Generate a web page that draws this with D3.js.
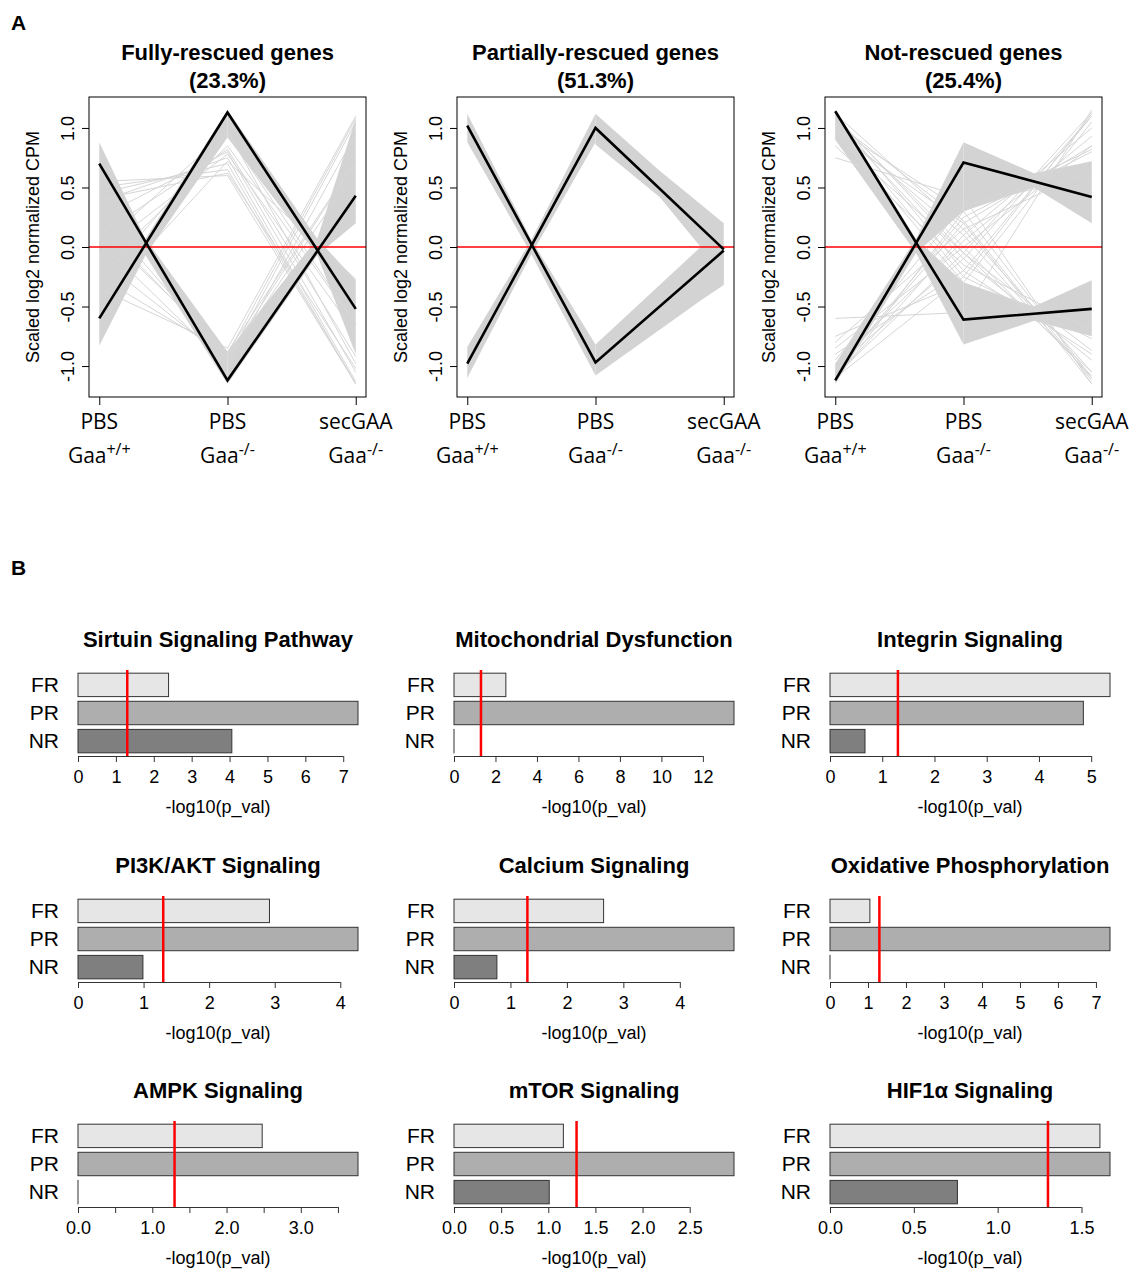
<!DOCTYPE html>
<html>
<head>
<meta charset="utf-8">
<script src="https://cdn.jsdelivr.net/npm/d3@7"></script>
<style>body{margin:0;background:#fff}</style>
</head>
<body>
<div id="chart"></div>
<script>
// ---- panel A: gene profile clusters ----
var conditions = ["PBS", "PBS", "secGAA"];
var genotypes = ["+/+", "-/-", "-/-"];
var conditionPos = [1, 2, 3];
var clusterTitles = ["Fully-rescued genes", "Partially-rescued genes", "Not-rescued genes"];
var clusterShares = ["(23.3%)", "(51.3%)", "(25.4%)"];
var yTicksA = [-1, -0.5, 0, 0.5, 1];

// cluster centroids, one value per condition
var meansFull = [[0.70, -1.12, 0.43], [-0.60, 1.13, -0.52]];
var meansPartial = [[1.02, -0.97, -0.03], [-0.98, 1.00, -0.02]];
var meansNot = [[1.14, -0.61, -0.52], [-1.12, 0.71, 0.42]];

// dense grey spread of gene profiles: [position, low, high]
var bandsFull = [
  [[1, -0.05, 0.88], [1.36, -0.07, 0.07], [2, -1.15, -0.88]],
  [[1, -0.83, 0.05], [1.36, -0.07, 0.07], [2, 0.92, 1.15]],
  [[2, -1.15, -0.88], [2.70, -0.07, 0.07], [3, 0.20, 1.08]],
  [[2, 0.92, 1.15], [2.70, -0.07, 0.07], [3, -0.90, -0.28]]
];
var bandsPartial = [
  [[1, 0.88, 1.12], [1.50, -0.06, 0.06], [2, -1.08, -0.82]],
  [[1, -1.10, -0.84], [1.50, -0.06, 0.06], [2, 0.88, 1.12]],
  [[2, 0.86, 1.12], [2.5, 0.42, 0.64], [2.82, 0.0, 0.36], [3, -0.30, 0.20]],
  [[2, -1.08, -0.82], [2.82, -0.45, 0.0], [3, -0.32, 0.0]]
];
var bandsNot = [
  [[1, 0.90, 1.15], [1.63, -0.05, 0.07], [2, -0.82, -0.30]],
  [[1, -1.15, -0.98], [1.63, -0.05, 0.07], [2, 0.30, 0.88]],
  [[2, 0.30, 0.88], [2.55, 0.50, 0.62], [3, 0.20, 0.72]],
  [[2, -0.82, -0.30], [2.55, -0.62, -0.50], [3, -0.75, -0.28]]
];

// individual genes outside the dense spread
var straysFull = [
  [0.55, 0.60, -1.15], [0.50, 0.65, -1.15], [0.45, 0.70, -1.15], [0.38, 0.75, -1.13],
  [0.25, 0.80, -1.05], [0.10, 0.82, -0.92], [-0.05, 0.78, -0.73], [0.40, 0.62, -1.02],
  [-0.25, -0.90, 1.08], [-0.10, -0.95, 1.05], [0.05, -1.00, 0.95], [-0.35, -0.85, 1.10],
  [0.30, -0.95, 0.65], [-0.30, 0.95, -0.65], [0.00, 0.98, -0.98], [0.20, -0.92, 0.72],
  [-0.45, 0.72, -0.27], [0.15, -0.88, 0.73], [-0.20, 0.85, -0.65]
];
var straysPartial = [];
var straysNot = [
  [-1.10, 0.10, 1.00], [-1.00, -0.10, 1.10], [-0.90, -0.20, 1.10], [-0.75, -0.30, 1.05],
  [-1.05, 0.20, 0.85], [-0.85, 0.00, 0.85], [-0.60, -0.55, 1.15], [-0.95, 0.35, 0.60],
  [1.05, -0.10, -0.95], [1.00, 0.10, -1.10], [0.95, 0.20, -1.15], [1.10, -0.20, -0.90],
  [0.75, 0.42, -1.15], [1.00, 0.30, -1.10], [1.08, 0.00, -1.08], [0.92, -0.05, -0.87],
  [-1.08, -0.05, 1.13], [1.12, 0.15, -1.05], [-1.05, 0.25, 0.80], [-0.98, 0.05, 0.93],
  [1.02, -0.25, -0.77], [0.98, -0.30, -0.68], [-1.10, -0.25, 1.12], [1.05, 0.22, -1.12],
  [-0.80, 0.15, 0.65], [0.85, -0.15, -0.70], [-1.12, 0.30, 0.82], [1.10, -0.05, -1.05]
];

// ---- panel B: pathway enrichment ----
var pathways = ["Sirtuin Signaling Pathway", "Mitochondrial Dysfunction", "Integrin Signaling",
  "PI3K/AKT Signaling", "Calcium Signaling", "Oxidative Phosphorylation",
  "AMPK Signaling", "mTOR Signaling", "HIF1\u03b1 Signaling"];
var groups = ["FR", "PR", "NR"];
var frVals = [2.39, 2.50, 5.36, 2.92, 2.65, 1.05, 2.48, 1.16, 1.61];
var prVals = [7.39, 13.50, 4.85, 4.27, 4.96, 7.37, 3.77, 2.97, 1.67];
var nrVals = [4.06, 0.00, 0.67, 0.99, 0.76, 0.00, 0.00, 1.01, 0.76];
var pCutoff = 1.3;
var tickSets = [
  [0, 1, 2, 3, 4, 5, 6, 7], [0, 2, 4, 6, 8, 10, 12], [0, 1, 2, 3, 4, 5],
  [0, 1, 2, 3, 4], [0, 1, 2, 3, 4], [0, 1, 2, 3, 4, 5, 6, 7],
  [0, 0.5, 1, 1.5, 2, 2.5, 3, 3.5], [0, 0.5, 1, 1.5, 2, 2.5], [0, 0.5, 1, 1.5]
];
var tickLabelSets = [
  ["0", "1", "2", "3", "4", "5", "6", "7"], ["0", "2", "4", "6", "8", "10", "12"], ["0", "1", "2", "3", "4", "5"],
  ["0", "1", "2", "3", "4"], ["0", "1", "2", "3", "4"], ["0", "1", "2", "3", "4", "5", "6", "7"],
  ["0.0", "", "1.0", "", "2.0", "", "3.0", ""], ["0.0", "0.5", "1.0", "1.5", "2.0", "2.5"], ["0.0", "0.5", "1.0", "1.5"]
];
var barColors = {FR: "#e6e6e6", PR: "#aeaeae", NR: "#7f7f7f"};

var font = "'Liberation Sans', Arial, Helvetica, sans-serif";

var svg = d3.select("#chart").append("svg")
  .attr("width", 1129)
  .attr("height", 1269)
  .attr("font-family", font);

svg.append("text").attr("x", 11).attr("y", 30)
  .attr("font-size", "21px").attr("font-weight", "bold").text("A");
svg.append("text").attr("x", 11).attr("y", 575)
  .attr("font-size", "21px").attr("font-weight", "bold").text("B");

// ---- draw panel A ----
var boxLefts = [89, 457, 825];
var boxW = 277, boxTop = 97, boxBottom = 397;
var allMeans = [meansFull, meansPartial, meansNot];
var allBands = [bandsFull, bandsPartial, bandsNot];
var allStrays = [straysFull, straysPartial, straysNot];

boxLefts.forEach(function (left, p) {
  var g = svg.append("g").attr("transform", "translate(" + left + ",0)");

  var x = d3.scaleLinear().domain([0.92, 3.08]).range([0, boxW]);
  var y = d3.scaleLinear().domain([-1.26, 1.26]).range([boxBottom, boxTop]);

  var area = d3.area()
    .x(d => x(d[0]))
    .y0(d => y(d[1]))
    .y1(d => y(d[2]));

  g.append("g").selectAll("path")
    .data(allBands[p])
    .join("path")
    .attr("d", area)
    .attr("fill", "#d3d3d3");

  var profile = d3.line()
    .x((d, i) => x(conditionPos[i]))
    .y(d => y(d));

  g.append("g").selectAll("path")
    .data(allStrays[p])
    .join("path")
    .attr("d", profile)
    .attr("fill", "none")
    .attr("stroke", "#d6d6d6")
    .attr("stroke-width", 1);

  g.append("line")
    .attr("x1", 0).attr("x2", boxW)
    .attr("y1", y(0)).attr("y2", y(0))
    .attr("stroke", "#ff0000").attr("stroke-width", 1.5);

  g.append("g").selectAll("path")
    .data(allMeans[p])
    .join("path")
    .attr("d", profile)
    .attr("fill", "none")
    .attr("stroke", "#000")
    .attr("stroke-width", 2.6);

  g.append("rect")
    .attr("x", 0).attr("y", boxTop)
    .attr("width", boxW).attr("height", boxBottom - boxTop)
    .attr("fill", "none").attr("stroke", "#000").attr("stroke-width", 1);

  // y axis with rotated labels
  var ya = g.append("g")
    .call(d3.axisLeft(y).tickValues(yTicksA).tickSize(7).tickFormat(d => d.toFixed(1)));
  ya.select(".domain").remove();
  ya.selectAll(".tick text")
    .attr("transform", "rotate(-90)")
    .attr("x", 0).attr("y", -15).attr("dy", null)
    .attr("text-anchor", "middle")
    .attr("font-family", font)
    .attr("font-size", "18px")
    .attr("fill", "#000");

  g.append("text")
    .attr("transform", "translate(-50," + ((boxTop + boxBottom) / 2) + ") rotate(-90)")
    .attr("text-anchor", "middle")
    .attr("font-size", "18px")
    .text("Scaled log2 normalized CPM");

  // x axis ticks and condition labels
  var xa = g.append("g")
    .attr("transform", "translate(0," + boxBottom + ")")
    .call(d3.axisBottom(x).tickValues(conditionPos).tickSize(8).tickFormat(""));
  xa.select(".domain").remove();

  var lab = g.append("g")
    .attr("font-family", "'Open Sans', sans-serif")
    .attr("font-size", "21px")
    .attr("text-anchor", "middle");
  lab.selectAll("text.cond")
    .data(conditions)
    .join("text")
    .attr("class", "cond")
    .attr("x", (d, i) => x(conditionPos[i]))
    .attr("y", 429)
    .text(d => d);
  var geno = lab.selectAll("text.geno")
    .data(genotypes)
    .join("text")
    .attr("class", "geno")
    .attr("x", (d, i) => x(conditionPos[i]))
    .attr("y", 463);
  geno.append("tspan").text("Gaa");
  geno.append("tspan").attr("dy", -8).attr("font-size", "16px").text(d => d);

  g.append("text")
    .attr("x", boxW / 2).attr("y", 60)
    .attr("text-anchor", "middle")
    .attr("font-size", "22px").attr("font-weight", "bold")
    .text(clusterTitles[p]);
  g.append("text")
    .attr("x", boxW / 2).attr("y", 88)
    .attr("text-anchor", "middle")
    .attr("font-size", "22px").attr("font-weight", "bold")
    .text(clusterShares[p]);
});

// ---- draw panel B ----
var colX0 = [78, 454, 830];
var axisY = [756, 982, 1207];
var span = 280, regionH = 86;

var yBand = d3.scaleBand()
  .domain(groups)
  .range([-regionH, 0])
  .paddingInner(1 / 6)
  .paddingOuter(0.113);

pathways.forEach(function (name, i) {
  var col = i % 3, row = Math.floor(i / 3);
  var g = svg.append("g")
    .attr("transform", "translate(" + colX0[col] + "," + axisY[row] + ")");

  var vals = [
    {group: "FR", v: frVals[i]},
    {group: "PR", v: prVals[i]},
    {group: "NR", v: nrVals[i]}
  ];
  var x = d3.scaleLinear()
    .domain([0, d3.max(vals, d => d.v)])
    .range([0, span]);

  g.append("g").selectAll("rect")
    .data(vals)
    .join("rect")
    .attr("x", x(0))
    .attr("y", d => yBand(d.group))
    .attr("width", d => Math.max(x(d.v) - x(0), 0.01))
    .attr("height", yBand.bandwidth())
    .attr("fill", d => barColors[d.group])
    .attr("stroke", "#333")
    .attr("stroke-width", 1);

  g.append("line")
    .attr("x1", x(pCutoff)).attr("x2", x(pCutoff))
    .attr("y1", -regionH).attr("y2", 0)
    .attr("stroke", "#ff0000").attr("stroke-width", 2.5);

  var ticks = tickSets[i], labels = tickLabelSets[i];
  var xa = g.append("g")
    .call(d3.axisBottom(x).tickValues(ticks).tickSize(6).tickSizeOuter(0)
      .tickFormat((d, k) => labels[k]));
  xa.select(".domain").remove();
  xa.selectAll(".tick line").attr("stroke", "#333");
  xa.selectAll(".tick text")
    .attr("y", 27).attr("dy", null)
    .attr("font-family", font)
    .attr("font-size", "18px")
    .attr("fill", "#000");
  g.append("line")
    .attr("x1", x(ticks[0])).attr("x2", x(ticks[ticks.length - 1]))
    .attr("y1", 0.5).attr("y2", 0.5)
    .attr("stroke", "#333").attr("stroke-width", 1);

  var ya = g.append("g")
    .call(d3.axisLeft(yBand).tickSize(0));
  ya.select(".domain").remove();
  ya.selectAll(".tick text")
    .attr("x", -19).attr("dy", "0.35em")
    .attr("font-family", font)
    .attr("font-size", "21px")
    .attr("fill", "#000");

  g.append("text")
    .attr("x", span / 2).attr("y", -109)
    .attr("text-anchor", "middle")
    .attr("font-size", "22px").attr("font-weight", "bold")
    .text(name);

  g.append("text")
    .attr("x", span / 2).attr("y", 57)
    .attr("text-anchor", "middle")
    .attr("font-size", "18px")
    .text("-log10(p_val)");
});
</script>
</body>
</html>
